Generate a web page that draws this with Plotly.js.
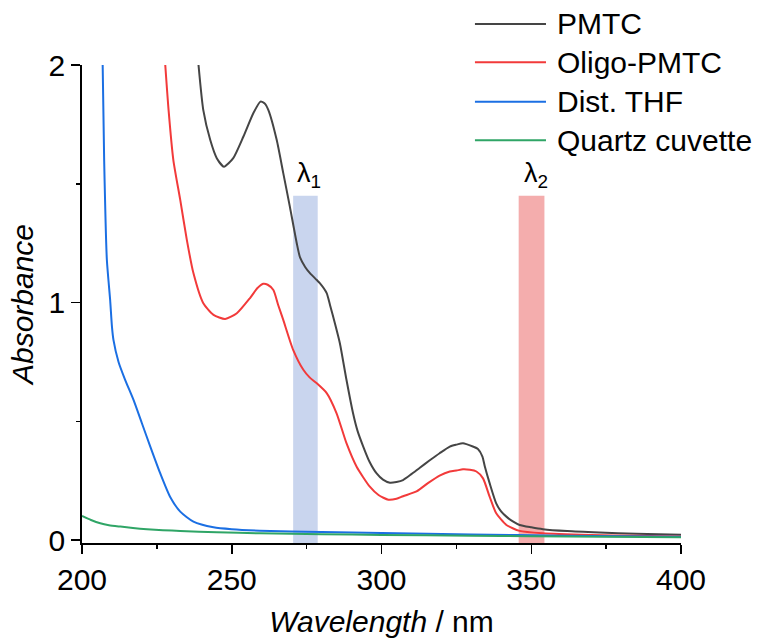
<!DOCTYPE html>
<html>
<head>
<meta charset="utf-8">
<script src="https://cdn.plot.ly/plotly-3.0.1.min.js"></script>
<style>html,body{margin:0;padding:0;background:#fff;}#chart{width:760px;height:638px;}</style>
</head>
<body>
<div id="chart"></div>
<script>
// ---- Data ----
const seriesNames = ["PMTC", "Oligo-PMTC", "Dist. THF", "Quartz cuvette"];
const seriesColors = ["#454545", "#f23a3a", "#1b6fe3", "#2fa566"];

const pmtcX = [238.9, 240.5, 242.8, 245.0, 247.4, 250.5, 253.9, 257.2, 259.6, 261.0, 262.2, 265.0, 267.2, 269.4, 271.7, 272.8, 274.5, 276.1, 278.3, 279.4, 281.7, 282.8, 284.5, 286.1, 288.3, 290.5, 292.0, 293.9, 296.0, 298.3, 300.5, 302.8, 305.0, 307.2, 310.0, 312.8, 316.0, 319.4, 322.8, 325.0, 327.2, 330.5, 332.2, 333.7, 334.5, 336.1, 338.3, 340.0, 341.7, 344.0, 346.1, 350.0, 353.9, 362.0, 372.8, 385.0, 400.0];
const pmtcY = [2.00, 1.81, 1.685, 1.608, 1.572, 1.608, 1.699, 1.797, 1.846, 1.838, 1.811, 1.685, 1.545, 1.404, 1.250, 1.190, 1.150, 1.124, 1.096, 1.082, 1.040, 0.990, 0.910, 0.829, 0.675, 0.534, 0.460, 0.394, 0.330, 0.282, 0.255, 0.242, 0.245, 0.253, 0.278, 0.305, 0.335, 0.366, 0.394, 0.402, 0.408, 0.394, 0.384, 0.352, 0.310, 0.240, 0.155, 0.120, 0.099, 0.078, 0.064, 0.054, 0.046, 0.038, 0.032, 0.027, 0.023];

const oligoX = [227.8, 228.9, 230.5, 232.8, 235.0, 237.2, 240.5, 243.9, 247.8, 251.7, 256.1, 258.5, 260.5, 262.0, 263.9, 265.5, 267.2, 270.5, 273.9, 276.0, 278.3, 281.7, 285.0, 288.3, 291.7, 296.1, 299.0, 302.3, 305.0, 307.2, 311.7, 315.5, 319.4, 322.8, 325.0, 327.2, 329.5, 331.7, 333.9, 336.1, 338.3, 341.7, 346.1, 353.9, 370.0, 385.0, 400.0];
const oligoY = [2.00, 1.811, 1.60, 1.432, 1.264, 1.124, 0.997, 0.948, 0.931, 0.955, 1.019, 1.060, 1.079, 1.075, 1.053, 0.990, 0.927, 0.801, 0.717, 0.685, 0.661, 0.619, 0.534, 0.408, 0.309, 0.225, 0.190, 0.170, 0.174, 0.185, 0.205, 0.240, 0.272, 0.289, 0.293, 0.298, 0.296, 0.289, 0.260, 0.183, 0.113, 0.064, 0.039, 0.029, 0.022, 0.018, 0.015];

const thfX = [206.9, 207.4, 208.3, 209.4, 210.0, 210.5, 212.2, 214.4, 217.2, 220.0, 222.8, 226.1, 229.4, 232.8, 237.2, 243.9, 250.0, 259.4, 280.0, 300.0, 330.0, 360.0, 400.0];
const thfY = [2.00, 1.60, 1.18, 1.011, 0.899, 0.843, 0.750, 0.675, 0.590, 0.492, 0.394, 0.282, 0.183, 0.120, 0.078, 0.054, 0.046, 0.040, 0.034, 0.030, 0.024, 0.019, 0.014];

const quartzX = [200.0, 203.0, 206.1, 209.0, 212.8, 217.0, 221.7, 227.0, 232.8, 245.0, 259.4, 280.0, 300.0, 330.0, 350.0, 375.0, 400.0];
const quartzY = [0.102, 0.085, 0.071, 0.063, 0.057, 0.051, 0.046, 0.042, 0.039, 0.033, 0.029, 0.025, 0.022, 0.019, 0.016, 0.014, 0.012];

// wavelength bands (lambda 1, lambda 2)
const bandLabels = ["λ<sub>1</sub>", "λ<sub>2</sub>"];
const bandStart = [270.5, 345.8];
const bandEnd = [278.7, 354.4];
const bandTop = [1.45, 1.45];
const bandColors = ["#c9d5ee", "#f4adad"];

const xTickVals = [200, 250, 300, 350, 400];
const yTickVals = [0, 1, 2];

// ---- Build ----
const FONT = "'Liberation Sans', Arial, sans-serif";
const yMin = -0.012;
const xs = [pmtcX, oligoX, thfX, quartzX];
const ys = [pmtcY, oligoY, thfY, quartzY];
const order = [0, 1, 2, 3];

const traces = order.map(i => ({
  type: "scatter", mode: "lines", name: seriesNames[i],
  x: xs[i], y: ys[i],
  line: {color: seriesColors[i], width: 2, shape: "spline", smoothing: 0.6},
  showlegend: false, hoverinfo: "skip"
}));

const shapes = bandStart.map((s, i) => ({
  type: "rect", xref: "x", yref: "y", x0: s, x1: bandEnd[i], y0: yMin, y1: bandTop[i],
  fillcolor: bandColors[i], line: {width: 0}, layer: "below"
}));

const annotations = bandStart.map((s, i) => ({
  x: (s + bandEnd[i]) / 2, y: bandTop[i], xref: "x", yref: "y",
  text: bandLabels[i], showarrow: false, xanchor: "center", yanchor: "bottom",
  xshift: 4, yshift: 2, font: {family: FONT, size: 27, color: "#000"}
}));

// manual legend (paper coordinates)
const legendRows = [1.086, 1.0055, 0.9232, 0.8425];
seriesNames.forEach((n, i) => {
  shapes.push({type: "line", xref: "paper", yref: "paper", x0: 0.656, x1: 0.7746,
    y0: legendRows[i], y1: legendRows[i], line: {color: seriesColors[i], width: 2}});
  annotations.push({xref: "paper", yref: "paper", x: 0.789, y: legendRows[i],
    xanchor: "left", yanchor: "middle", showarrow: false, text: n,
    font: {family: FONT, size: 30, color: "#000"}});
});

const layout = {
  width: 760, height: 638,
  margin: {l: 82, r: 79, t: 65, b: 95},
  paper_bgcolor: "#fff", plot_bgcolor: "#fff",
  font: {family: FONT, size: 30, color: "#000"},
  showlegend: false,
  xaxis: {
    range: [200, 400], showgrid: false, zeroline: false,
    showline: true, linecolor: "#000", linewidth: 1.8,
    ticks: "outside", ticklen: 9, tickwidth: 1.5, tickcolor: "#000",
    tickvals: xTickVals, ticktext: xTickVals.map(String),
    minor: {ticks: "outside", dtick: 25, tick0: 200, ticklen: 4, tickwidth: 1.5, tickcolor: "#000", showgrid: false},
    tickfont: {family: FONT, size: 30, color: "#000"},
    title: {text: "<i>Wavelength</i> / nm", font: {family: FONT, size: 30, color: "#000"}, standoff: 18}
  },
  yaxis: {
    range: [yMin, 2], showgrid: false, zeroline: false,
    showline: true, linecolor: "#000", linewidth: 1.8,
    ticks: "outside", ticklen: 9, tickwidth: 1.5, tickcolor: "#000",
    tickvals: yTickVals, ticktext: yTickVals.map(String),
    minor: {ticks: "outside", dtick: 0.5, tick0: 0, ticklen: 4, tickwidth: 1.5, tickcolor: "#000", showgrid: false},
    tickfont: {family: FONT, size: 30, color: "#000"},
    title: {text: "<i>Absorbance</i>", font: {family: FONT, size: 30, color: "#000"}, standoff: 6}
  },
  shapes: shapes,
  annotations: annotations
};

Plotly.newPlot("chart", traces, layout, {displayModeBar: false, staticPlot: true});
</script>
</body>
</html>
